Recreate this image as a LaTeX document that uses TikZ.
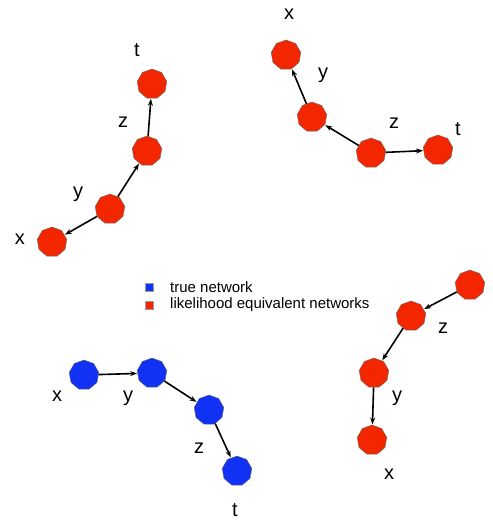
\documentclass[tikz,border=0pt]{standalone}
\usepackage{fontspec}
\setmainfont{Liberation Sans}
\usetikzlibrary{shapes.geometric,arrows.meta}
\definecolor{netred}{RGB}{243,38,0}
\definecolor{netblue}{RGB}{17,50,245}
\tikzset{
  netnode/.style={regular polygon, regular polygon sides=9, minimum size=30pt,
    inner sep=0pt, draw=black!60, line width=0.4pt},
  rednode/.style={netnode, fill=netred},
  bluenode/.style={netnode, fill=netblue},
  varlab/.style={font=\fontsize{20}{22}\selectfont, inner sep=0pt},
  arc/.style={-{Stealth[length=7pt,width=5pt]}, line width=1.6pt, shorten >=0.5pt},
  legbox/.style={minimum size=8pt, inner sep=0pt, draw=black!40, line width=0.3pt}
}
\begin{document}
\begin{tikzpicture}[x=1pt,y=-1pt]
\useasboundingbox (0,0) rectangle (493,520);
% top left: x <- y -> z -> t
\foreach \n/\px/\py/\lx/\ly in {x/52/242/20/239, y/110/209/78/194, z/147/151/123/122, t/152/84/137/50} {
  \node[rednode] (a\n) at (\px,\py) {};
  \node[varlab] (a\n-lab) at (\lx,\ly) {\n};
}
\draw[arc] (ay) -- (ax);
\draw[arc] (ay) -- (az);
\draw[arc] (az) -- (at);
% top right: x <- y <- z -> t
\foreach \n/\px/\py/\lx/\ly in {x/286/55/289/14, y/312/117/323/75, z/371/153/394/123, t/438/150/458/129} {
  \node[rednode] (b\n) at (\px,\py) {};
  \node[varlab] (b\n-lab) at (\lx,\ly) {\n};
}
\draw[arc] (by) -- (bx);
\draw[arc] (bz) -- (by);
\draw[arc] (bz) -- (bt);
% bottom right: x <- y <- z <- t
\foreach \n/\px/\py/\lx/\ly in {x/372/440/389/474, y/374/373/397/398, z/411/316/443/328, t/470/285/499/281} {
  \node[rednode] (c\n) at (\px,\py) {};
  \node[varlab] (c\n-lab) at (\lx,\ly) {\n};
}
\draw[arc] (ct) -- (cz);
\draw[arc] (cz) -- (cy);
\draw[arc] (cy) -- (cx);
% bottom left: the true network x -> y -> z -> t
\foreach \n/\px/\py/\lx/\ly in {x/84/375/57/396, y/152/373/128/398, z/209/410/199/448, t/237/471/235/510} {
  \node[bluenode] (d\n) at (\px,\py) {};
  \node[varlab] (d\n-lab) at (\lx,\ly) {\n};
}
\draw[arc] (dx) -- (dy);
\draw[arc] (dy) -- (dz);
\draw[arc] (dz) -- (dt);
% legend
\node[legbox, fill=netblue] (legtrue) at (149,287) {};
\node[anchor=west, font=\fontsize{15}{17}\selectfont, inner sep=0pt] (legtrue-txt) at (170,287) {true network};
\node[legbox, fill=netred] (legeq) at (149,305) {};
\node[anchor=west, font=\fontsize{15}{17}\selectfont, inner sep=0pt] (legeq-txt) at (170,305) {likelihood equivalent networks};
\end{tikzpicture}
\end{document}
